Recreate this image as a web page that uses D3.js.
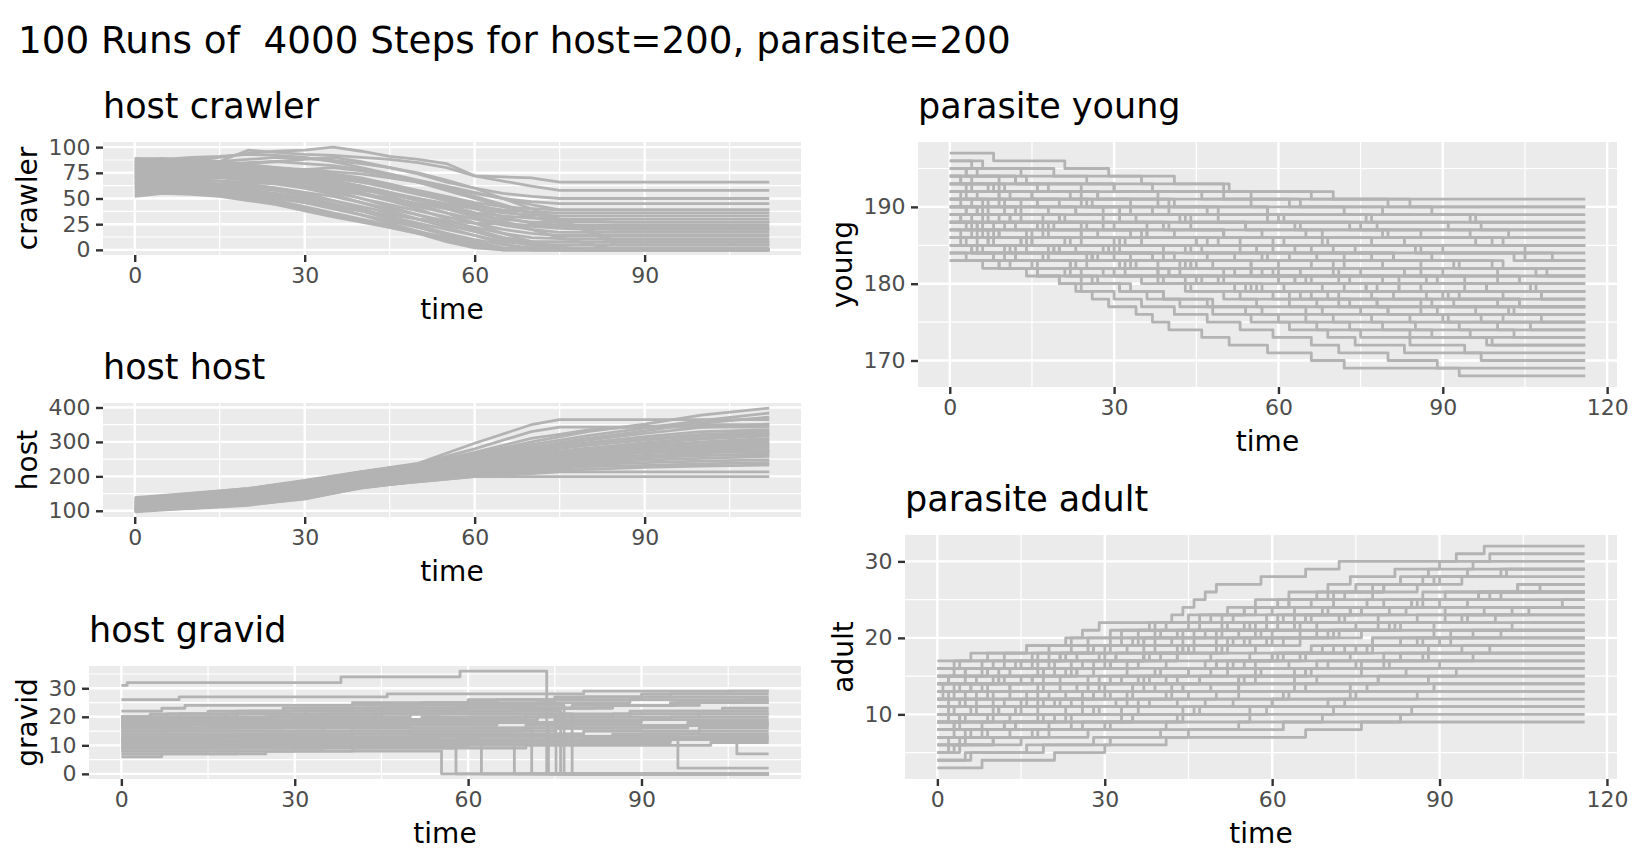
<!DOCTYPE html>
<html>
<head>
<meta charset="utf-8">
<script src="https://cdnjs.cloudflare.com/ajax/libs/d3/7.8.5/d3.min.js"></script>
<style>
  body { margin: 0; background: #ffffff; }
  text { font-family: "DejaVu Sans", sans-serif; }
</style>
</head>
<body>
<svg id="chart" width="1632" height="865"></svg>
<script>
//chart texts
var plotTitle = '100 Runs of  4000 Steps for host=200, parasite=200';

//last time step of each column
var leftEnd = 112,
    rightEnd = 116;

//tick labels
var leftXTicks = [0, 30, 60, 90],
    rightXTicks = [0, 30, 60, 90, 120],
    crawlerTicks = [0, 25, 50, 75, 100],
    hostTicks = [100, 200, 300, 400],
    gravidTicks = [0, 10, 20, 30],
    youngTicks = [170, 180, 190],
    adultTicks = [10, 20, 30];

//host crawler: values read every 5 time units, the last value holds to the end
var crawlerTimes = [0, 5, 10, 15, 20, 25, 30, 35, 40, 45, 50, 55, 60, 65, 70, 75, 80, 85];
var crawlerRuns = [
    [88, 89, 87, 90, 94, 96, 97, 100, 96, 91, 88, 84, 72, 71, 70, 66],
    [85, 87, 88, 86, 97, 95, 93, 92, 90, 88, 85, 80, 72, 67, 62, 58],
    [82, 84, 86, 85, 84, 86, 88, 90, 86, 80, 74, 66, 60, 55, 52, 50],
    [80, 82, 83, 84, 82, 80, 78, 76, 74, 70, 66, 60, 55, 50, 47, 45],
    [78, 80, 79, 81, 80, 78, 76, 72, 68, 64, 58, 52, 46, 42, 40, 39],
    [76, 77, 78, 76, 75, 74, 72, 70, 66, 60, 54, 48, 42, 39, 37, 36],
    [74, 76, 75, 74, 72, 70, 68, 64, 60, 55, 50, 45, 40, 36, 34, 33],
    [72, 73, 72, 74, 73, 70, 66, 62, 58, 54, 48, 42, 36, 33, 31, 30],
    [70, 72, 70, 71, 70, 68, 64, 60, 55, 50, 45, 40, 34, 30, 27],
    [89, 88, 86, 85, 83, 80, 77, 74, 70, 64, 56, 48, 40, 32, 26, 24],
    [86, 85, 84, 82, 80, 76, 72, 68, 62, 56, 48, 40, 32, 26, 23, 21, 20],
    [68, 70, 69, 70, 68, 66, 62, 58, 54, 48, 42, 36, 30, 24, 20, 17],
    [66, 67, 68, 67, 66, 64, 60, 56, 50, 44, 38, 32, 26, 20, 16, 14],
    [64, 66, 65, 64, 63, 60, 56, 52, 46, 40, 34, 28, 22, 16, 12, 11],
    [62, 63, 64, 62, 60, 58, 54, 48, 42, 36, 30, 24, 18, 12, 8],
    [60, 62, 61, 60, 58, 55, 50, 44, 38, 32, 26, 20, 14, 8, 5],
    [58, 60, 59, 58, 56, 52, 46, 40, 34, 28, 22, 16, 10, 5, 2],
    [56, 58, 57, 55, 52, 48, 42, 36, 30, 24, 18, 12, 6, 2, 0],
    [54, 56, 55, 53, 50, 46, 40, 34, 28, 22, 16, 10, 4, 0],
    [52, 55, 54, 52, 48, 44, 38, 32, 27, 22, 16, 8, 2, 0],
    [84, 86, 85, 84, 82, 78, 74, 68, 60, 52, 44, 36, 26, 16, 8, 3, 0],
    [80, 81, 80, 78, 75, 72, 68, 62, 56, 48, 40, 30, 20, 12, 6, 0],
    [77, 78, 76, 75, 72, 68, 64, 58, 50, 42, 34, 26, 18, 10, 4, 0],
    [73, 74, 73, 72, 70, 66, 60, 54, 46, 38, 30, 22, 14, 6, 0],
    [70, 69, 68, 67, 64, 60, 55, 48, 40, 32, 24, 16, 8, 2, 0],
    [67, 68, 66, 64, 62, 58, 52, 45, 38, 30, 22, 14, 6, 0],
    [65, 64, 63, 62, 58, 54, 48, 42, 34, 26, 18, 10, 4, 0],
    [75, 77, 78, 77, 76, 74, 70, 66, 62, 56, 50, 44, 36, 28, 20, 12, 6, 0],
    [82, 83, 81, 80, 78, 76, 73, 70, 66, 62, 56, 50, 44, 38, 32, 26, 22, 20],
    [61, 60, 58, 56, 54, 50, 46, 42, 38, 34, 30, 28, 26, 25, 24, 23, 22, 22],
    [87, 88, 90, 91, 93, 92, 90, 86, 80, 74, 68, 62, 56, 50, 44, 39],
    [79, 80, 82, 83, 85, 86, 84, 82, 78, 72, 66, 58, 50, 42, 36, 30, 28, 27],
    [71, 72, 74, 73, 75, 76, 78, 80, 77, 72, 66, 60, 52, 44, 36, 28, 20, 8],
    [83, 84, 83, 86, 88, 90, 89, 87, 84, 80, 75, 68, 60, 50, 40, 30, 18, 5]
];

//host host: values read at these times
var hostTimes = [0, 10, 20, 30, 40, 50, 60, 70, 75, 80, 90, 100, 112];
var hostRuns = [
    [133, 150, 165, 188, 214, 238, 296, 350, 365, 365, 365, 365, 365],
    [130, 146, 162, 185, 212, 236, 280, 330, 343, 343, 343, 343, 343],
    [125, 140, 158, 182, 208, 232, 265, 300, 315, 330, 352, 378, 398],
    [122, 138, 155, 180, 205, 230, 262, 292, 305, 318, 340, 362, 384],
    [138, 151, 164, 186, 213, 235, 258, 285, 298, 310, 332, 355, 372],
    [118, 134, 152, 176, 202, 226, 255, 282, 294, 305, 325, 342, 352],
    [115, 131, 149, 173, 199, 224, 250, 276, 288, 298, 315, 330, 335],
    [112, 128, 146, 170, 196, 220, 246, 270, 281, 290, 305, 318, 326],
    [110, 126, 144, 168, 194, 218, 242, 264, 274, 282, 296, 308, 318],
    [108, 124, 142, 166, 192, 216, 238, 258, 268, 276, 290, 300, 310],
    [106, 122, 140, 164, 190, 214, 234, 252, 262, 270, 282, 292, 300],
    [104, 120, 138, 161, 187, 211, 230, 247, 256, 264, 275, 284, 292],
    [102, 118, 136, 158, 184, 208, 226, 242, 250, 258, 268, 276, 283],
    [101, 116, 133, 155, 181, 204, 222, 237, 244, 252, 261, 268, 275],
    [100, 114, 130, 152, 178, 200, 218, 232, 240, 246, 254, 260, 266],
    [99, 112, 127, 148, 175, 196, 214, 228, 235, 240, 247, 252, 258],
    [98, 110, 124, 144, 172, 192, 210, 224, 230, 234, 240, 244, 248],
    [97, 108, 120, 140, 168, 188, 206, 218, 224, 228, 232, 236, 240],
    [103, 106, 116, 136, 166, 186, 202, 212, 218, 220, 226, 230, 233],
    [107, 112, 118, 134, 167, 185, 200, 208, 213, 213, 213, 213, 213],
    [111, 116, 122, 138, 170, 184, 199, 199, 199, 199, 199, 199, 199],
    [120, 132, 150, 174, 200, 222, 244, 262, 270, 275, 275, 275, 275],
    [128, 142, 160, 184, 209, 234, 270, 310, 322, 335, 345, 350, 350],
    [126, 139, 156, 178, 203, 228, 252, 275, 285, 292, 308, 322, 330],
    [116, 128, 145, 168, 195, 218, 240, 255, 262, 267, 271, 271, 271],
    [113, 125, 141, 163, 189, 212, 236, 258, 266, 272, 285, 297, 305],
    [109, 121, 137, 159, 185, 206, 228, 246, 255, 262, 271, 280, 288],
    [105, 117, 134, 156, 182, 202, 224, 240, 248, 253, 258, 262, 262],
    [124, 137, 153, 177, 201, 227, 250, 266, 271, 280, 298, 312, 322],
    [136, 148, 163, 187, 212, 233, 248, 262, 266, 268, 278, 290, 295]
];

//host gravid: [time, value] at every change, the last value holds to the end
var gravidRuns = [
    [[0, 31], [1, 32], [38, 34], [58.6, 36], [73.6, 0]],
    [[0, 26], [10, 27], [46, 28], [80, 29]],
    [[0, 22], [7, 23], [11, 24], [40, 25], [60, 26], [75, 27], [90, 28]],
    [[0, 6], [7, 7], [25, 8], [55.4, 0]],
    [[0, 7], [20, 8], [40, 9], [70, 10], [102, 11]],
    [[0, 8], [30, 9], [57.9, 0]],
    [[0, 9], [15, 10], [45, 11], [80, 12]],
    [[0, 10], [25, 11], [50, 12], [62.3, 0]],
    [[0, 11], [20, 12], [45, 13], [96.3, 2]],
    [[0, 12], [18, 13], [40, 14], [68, 0]],
    [[0, 9], [35, 10], [70, 11], [90, 12], [106.5, 7]],
    [[0, 14], [15, 15], [35, 16], [71, 0]],
    [[0, 15], [8, 16], [28, 17], [50, 18], [75, 19], [95, 20]],
    [[0, 16], [20, 17], [40, 18], [73.9, 0]],
    [[0, 17], [12, 18], [30, 19], [52, 20], [70, 21], [90, 22]],
    [[0, 18], [10, 19], [25, 20], [45, 21], [75.2, 0]],
    [[0, 19], [15, 20], [35, 21], [55, 22], [76, 0]],
    [[0, 20], [8, 21], [22, 22], [42, 23], [60, 24], [76.6, 0]],
    [[0, 20], [18, 21], [38, 22], [58, 23], [78, 24], [95, 25]],
    [[0, 19], [25, 20], [50, 21], [78, 0]],
    [[0, 18], [30, 19], [60, 20], [85, 21]],
    [[0, 17], [22, 18], [48, 19], [72, 20], [100, 21]],
    [[0, 16], [35, 17], [65, 18], [90, 19]],
    [[0, 15], [40, 16], [70, 17]],
    [[0, 14], [30, 15], [60, 16], [90, 17]],
    [[0, 13], [45, 14], [80, 15]],
    [[0, 12], [50, 13], [90, 14]],
    [[0, 10], [60, 11], [95, 12]],
    [[0, 20], [5, 21], [15, 22], [28, 23], [40, 24], [52, 25], [65, 26], [80, 27], [95, 28], [105, 29]],
    [[0, 19], [10, 20], [20, 21], [32, 22], [45, 23], [58, 24], [72, 25], [88, 26]],
    [[0, 18], [12, 19], [26, 20], [40, 21], [55, 22], [70, 23], [85, 24], [100, 25]],
    [[0, 17], [6, 18], [18, 19], [30, 20], [44, 21], [56, 22], [68, 23], [82, 24], [96, 25], [108, 26]],
    [[0, 20], [10, 21], [20, 22], [30, 23], [45, 24], [60, 25], [75, 26], [90, 27]],
    [[0, 11], [28, 12], [55, 13], [85, 14], [100, 16]],
    [[0, 9], [20, 10], [38, 11], [58, 12], [80, 13]],
    [[0, 13], [25, 14], [50, 15], [75, 16], [98, 18]],
    [[0, 16], [15, 17], [32, 18], [52, 19], [70, 20], [88, 22], [104, 23]],
    [[0, 8], [15, 9], [35, 10], [60, 11], [80, 12], [100, 13]],
    [[0, 12], [10, 13], [30, 14], [50, 15], [70, 16], [90, 17], [108, 18]]
];

//parasite young: start value and the times it loses one
var youngStarts = [197, 196, 195, 195, 194, 194, 193, 193, 192, 192, 191, 191, 190, 190, 189, 189, 188, 188,
    187, 187, 186, 186, 185, 183, 194, 192, 190, 188, 186, 185, 184, 184, 191, 189, 187, 183,
    196, 195, 194, 193, 192, 191, 190, 189, 188, 187, 186, 185, 190, 193];
var youngDrops = [
    [8, 21, 29, 41, 51, 66],
    [6, 19, 35, 50, 70, 84],
    [5, 14, 30, 46, 62, 88],
    [3, 12, 24, 38, 55, 72, 96],
    [4, 16, 27, 40, 58, 76, 91],
    [2, 10, 22, 33, 47, 60, 78, 102],
    [7, 15, 26, 37, 49, 64, 80, 99],
    [3, 11, 20, 31, 42, 54, 68, 83, 105],
    [5, 13, 23, 34, 44, 57, 69, 86, 110],
    [2, 9, 18, 28, 39, 50, 61, 74, 88, 101],
    [6, 12, 21, 30, 41, 53, 63, 77, 92, 107],
    [4, 10, 17, 25, 36, 45, 56, 67, 79, 90, 104],
    [3, 9, 19, 27, 35, 46, 58, 66, 75, 89, 98],
    [5, 11, 16, 24, 32, 43, 52, 60, 71, 82, 94, 108],
    [2, 8, 15, 22, 31, 39, 48, 59, 65, 76, 87, 100],
    [4, 10, 14, 21, 29, 37, 45, 55, 63, 72, 81, 92, 103],
    [3, 7, 13, 20, 27, 33, 42, 50, 61, 69, 78, 86, 97],
    [5, 9, 15, 19, 26, 34, 40, 49, 57, 64, 73, 80, 91, 106],
    [2, 8, 12, 18, 25, 30, 38, 44, 53, 62, 68, 77, 85, 95],
    [4, 7, 11, 17, 23, 28, 35, 43, 50, 56, 65, 70, 79, 88, 99],
    [3, 6, 12, 16, 22, 27, 33, 39, 47, 54, 60, 67, 75, 84, 94],
    [2, 5, 10, 15, 21, 26, 31, 36, 42, 48, 55, 62, 69, 74, 83, 97],
    [4, 8, 11, 16, 20, 24, 30, 35, 41, 47, 53, 59, 66, 71, 80, 89],
    [6, 14, 20, 23, 26, 29, 34, 37, 40, 46, 51, 58, 66, 72, 93],
    [12, 30, 55, 80],
    [9, 25, 40, 58, 75, 95],
    [7, 20, 36, 50, 68, 85, 103],
    [6, 17, 30, 44, 57, 70, 86, 100],
    [5, 14, 26, 38, 50, 63, 76, 90, 104],
    [4, 12, 22, 32, 43, 55, 66, 78, 89, 101],
    [3, 9, 16, 24, 31, 39, 48, 57, 65, 73, 84, 98],
    [8, 22, 40, 60, 82, 108],
    [10, 28, 44, 63, 79, 96],
    [6, 18, 33, 49, 66, 81, 99],
    [5, 15, 28, 41, 55, 70, 87, 106],
    [9, 24, 39, 56, 71, 88, 102],
    [4, 13, 25, 37, 50, 64, 79, 95],
    [3, 9, 18, 27, 38, 49, 61, 73, 86, 101],
    [2, 8, 15, 24, 33, 43, 54, 65, 77, 90, 105],
    [4, 9, 16, 23, 31, 40, 50, 59, 70, 81, 93, 109],
    [3, 7, 13, 20, 28, 36, 45, 53, 62, 72, 83, 94, 107],
    [2, 6, 11, 17, 24, 31, 39, 47, 55, 64, 73, 82, 93, 104],
    [3, 7, 12, 18, 24, 30, 37, 44, 52, 60, 68, 77, 86, 96, 108],
    [2, 5, 9, 14, 20, 26, 32, 38, 45, 52, 59, 67, 75, 84, 93, 103],
    [4, 8, 13, 19, 25, 31, 38, 46, 54, 62, 71, 80, 90, 100],
    [6, 14, 23, 33, 44, 55, 66, 78, 91, 104],
    [7, 18, 30, 43, 57, 71, 86, 101],
    [10, 26, 42, 60, 79, 98],
    [5, 13, 24, 35, 47, 59, 72, 86, 100],
    [9, 24, 41, 58, 77, 97]
];

//parasite adult: start value and the times it gains one
var adultStarts = [17, 16, 15, 15, 14, 14, 13, 13, 12, 12, 11, 11, 10, 10, 9, 9, 8, 8,
    7, 7, 6, 5, 4, 3, 16, 14, 12, 10, 8, 6, 5, 11, 13, 9, 7, 15,
    16, 15, 14, 13, 12, 11, 10, 9, 8, 7, 6, 5, 4, 12];
var adultRises = [
    [6, 16, 23, 26, 29, 42, 44, 46, 48, 50, 58, 66, 72, 93, 98],
    [4, 12, 20, 27, 33, 38, 45, 52, 57, 63, 70, 74, 82, 90, 99],
    [3, 10, 17, 24, 31, 36, 41, 49, 55, 61, 68, 75, 83, 88, 96],
    [5, 14, 22, 28, 35, 40, 47, 53, 60, 67, 73, 80, 89, 102],
    [2, 9, 18, 25, 30, 37, 43, 51, 59, 64, 71, 78, 86, 94],
    [7, 13, 21, 29, 34, 42, 50, 56, 62, 69, 77, 87, 104],
    [3, 11, 19, 26, 32, 39, 46, 54, 61, 66, 74, 85, 97],
    [6, 15, 24, 31, 37, 45, 53, 58, 65, 73, 84, 95],
    [2, 8, 17, 23, 30, 38, 44, 52, 60, 68, 79, 91],
    [5, 13, 22, 28, 36, 43, 51, 59, 70, 81, 100],
    [4, 10, 18, 27, 34, 41, 49, 57, 65, 76, 89],
    [7, 16, 25, 33, 40, 48, 56, 67, 78, 92],
    [3, 12, 20, 29, 37, 45, 53, 62, 75, 86],
    [6, 15, 26, 35, 43, 52, 63, 74, 88],
    [2, 11, 21, 30, 39, 47, 58, 70, 83],
    [5, 14, 24, 34, 44, 55, 66, 80],
    [4, 13, 23, 32, 42, 54, 68, 84],
    [8, 18, 28, 38, 50, 64, 79],
    [3, 12, 24, 36, 48, 62, 77],
    [9, 20, 33, 46, 60, 75],
    [5, 17, 30, 44, 59, 73],
    [4, 15, 27, 41, 56, 71],
    [6, 19, 31, 45, 62, 83],
    [8, 21, 30, 41, 66, 76],
    [8, 18, 28, 37, 46, 55, 64, 74, 85, 97, 108],
    [10, 21, 31, 40, 50, 60, 71, 82, 94, 106],
    [9, 19, 29, 39, 50, 61, 73, 87, 101],
    [7, 18, 31, 42, 54, 67, 81, 96],
    [3, 9, 15, 22, 28, 35, 41, 49, 57, 66, 78, 92],
    [2, 8, 14, 21, 29, 36, 45, 54, 64, 76, 90],
    [3, 10, 18, 26, 35, 44, 53, 63, 74, 88],
    [2, 7, 13, 19, 25, 31, 37, 43, 50, 57, 64, 72, 81, 90, 101],
    [1, 5, 11, 17, 22, 27, 33, 39, 45, 51, 57, 63, 70, 78, 87, 95],
    [4, 10, 16, 23, 30, 38, 45, 52, 60, 69, 78, 89, 103],
    [5, 12, 19, 26, 34, 41, 49, 57, 66, 76, 87, 99],
    [9, 20, 32, 44, 56, 68, 79, 91, 103, 112],
    [3, 9, 16, 24, 31, 39, 47, 55, 63, 71, 80, 90, 101],
    [5, 12, 20, 28, 36, 44, 52, 61, 70, 80, 91, 104],
    [2, 8, 15, 23, 31, 39, 48, 57, 66, 76, 87, 99],
    [4, 11, 19, 28, 37, 46, 55, 65, 75, 86, 98],
    [3, 9, 17, 25, 34, 43, 52, 62, 72, 83, 95],
    [5, 13, 22, 31, 40, 50, 60, 71, 83, 96],
    [2, 10, 18, 27, 36, 45, 55, 65, 77, 90],
    [4, 11, 19, 28, 37, 47, 57, 68, 80, 94],
    [3, 10, 18, 26, 35, 44, 54, 64, 75, 88],
    [6, 14, 23, 33, 43, 54, 66, 79, 93],
    [4, 13, 24, 35, 47, 60, 74, 89],
    [2, 10, 20, 31, 43, 56, 70, 86],
    [5, 16, 28, 40, 54, 69, 85],
    [1, 6, 12, 18, 24, 30, 37, 44, 51, 59, 67, 76, 86, 97]
];

//style settings (ggplot grey theme at this resolution)
var lineColor = '#b3b3b3',
    lineWidth = 2.8,
    tickLength = 7,
    tickPadding = 5.6;

//builds [time, value] series from values on a time grid
var gridSeries = function (times, runs, end) {
    return runs.map(function (vals) {
        var pts = vals.map(function (v, i) { return [times[i], v]; });
        if (pts[pts.length - 1][0] < end)
            pts.push([end, vals[vals.length - 1]]);
        return pts;
    });
};

//builds [time, value] series from a start value and unit change times
var unitStepSeries = function (starts, changes, sign, end) {
    return starts.map(function (s, i) {
        var pts = [[0, s]];
        changes[i].forEach(function (t, k) { pts.push([t, s + sign * (k + 1)]); });
        pts.push([end, s + sign * changes[i].length]);
        return pts;
    });
};

//closes change point series at the end time
var changeSeries = function (runs, end) {
    return runs.map(function (run) {
        return run.concat([[end, run[run.length - 1][1]]]);
    });
};

var panels = [
    { title: 'host crawler', yLab: 'crawler', box: [103, 142, 801, 255], end: leftEnd, step: false,
      xTicks: leftXTicks, yTicks: crawlerTicks, series: gridSeries(crawlerTimes, crawlerRuns, leftEnd) },
    { title: 'host host', yLab: 'host', box: [103, 403, 801, 517], end: leftEnd, step: false,
      xTicks: leftXTicks, yTicks: hostTicks, series: gridSeries(hostTimes, hostRuns, leftEnd) },
    { title: 'host gravid', yLab: 'gravid', box: [89, 666, 801, 779], end: leftEnd, step: true,
      xTicks: leftXTicks, yTicks: gravidTicks, series: changeSeries(gravidRuns, leftEnd) },
    { title: 'parasite young', yLab: 'young', box: [918, 142, 1617, 387], end: rightEnd, step: true,
      xTicks: rightXTicks, yTicks: youngTicks, series: unitStepSeries(youngStarts, youngDrops, -1, rightEnd) },
    { title: 'parasite adult', yLab: 'adult', box: [905, 535, 1617, 779], end: rightEnd, step: true,
      xTicks: rightXTicks, yTicks: adultTicks, series: unitStepSeries(adultStarts, adultRises, 1, rightEnd) }
];

var svg = d3.select('#chart');

//main title
svg.append('text')
    .attr('x', 18)
    .attr('y', 53)
    .attr('font-size', 37.3)
    .attr('fill', '#000')
    .attr('xml:space', 'preserve')
    .style('white-space', 'pre')
    .text(plotTitle);

//5% expansion like ggplot continuous scales
var expand = function (ext) {
    var d = (ext[1] - ext[0]) * 0.05;
    return [ext[0] - d, ext[1] + d];
};

//minor breaks half way between the major ones
var minorBreaks = function (ticks, domain) {
    var step = ticks[1] - ticks[0],
        out = [];
    for (var v = ticks[0] - step / 2; v <= ticks[ticks.length - 1] + step / 2; v += step)
        if (v >= domain[0] && v <= domain[1]) out.push(v);
    return out;
};

//applies theme styles to an axis group
var styleAxis = function (ax) {
    ax.attr('font-family', '"DejaVu Sans", sans-serif').attr('font-size', 22);
    ax.select('.domain').remove();
    ax.selectAll('.tick line').attr('stroke', '#333333').attr('stroke-width', 2.4);
    ax.selectAll('.tick text').attr('fill', '#4d4d4d');
};

//draws a single panel
var drawPanel = function (p, idx) {
    var b = p.box,
        values = [];
    p.series.forEach(function (s) { s.forEach(function (d) { values.push(d[1]); }); });

    var x = d3.scaleLinear().domain(expand([0, p.end])).range([b[0], b[2]]),
        y = d3.scaleLinear().domain(expand(d3.extent(values))).range([b[3], b[1]]);

    var g = svg.append('g');

    //panel background
    g.append('rect')
        .attr('x', b[0]).attr('y', b[1])
        .attr('width', b[2] - b[0]).attr('height', b[3] - b[1])
        .attr('fill', '#ebebeb');

    //minor grid
    g.selectAll('.minor-x').data(minorBreaks(p.xTicks, x.domain())).enter().append('line')
        .attr('x1', x).attr('x2', x).attr('y1', b[1]).attr('y2', b[3])
        .attr('stroke', '#fff').attr('stroke-width', 1.2);
    g.selectAll('.minor-y').data(minorBreaks(p.yTicks, y.domain())).enter().append('line')
        .attr('y1', y).attr('y2', y).attr('x1', b[0]).attr('x2', b[2])
        .attr('stroke', '#fff').attr('stroke-width', 1.2);

    //major grid
    g.selectAll('.major-x').data(p.xTicks).enter().append('line')
        .attr('x1', x).attr('x2', x).attr('y1', b[1]).attr('y2', b[3])
        .attr('stroke', '#fff').attr('stroke-width', 2.4);
    g.selectAll('.major-y').data(p.yTicks).enter().append('line')
        .attr('y1', y).attr('y2', y).attr('x1', b[0]).attr('x2', b[2])
        .attr('stroke', '#fff').attr('stroke-width', 2.4);

    //clip runs to the panel
    svg.append('clipPath').attr('id', 'clip' + idx).append('rect')
        .attr('x', b[0]).attr('y', b[1])
        .attr('width', b[2] - b[0]).attr('height', b[3] - b[1]);

    var line = d3.line()
        .x(function (d) { return x(d[0]); })
        .y(function (d) { return y(d[1]); })
        .curve(p.step ? d3.curveStepAfter : d3.curveLinear);

    g.append('g').attr('clip-path', 'url(#clip' + idx + ')')
        .selectAll('path').data(p.series).enter().append('path')
        .attr('d', line)
        .attr('fill', 'none')
        .attr('stroke', lineColor)
        .attr('stroke-width', lineWidth)
        .attr('stroke-linejoin', 'round');

    //axes
    var xAxis = g.append('g')
        .attr('transform', 'translate(0,' + b[3] + ')')
        .call(d3.axisBottom(x).tickValues(p.xTicks).tickSize(tickLength).tickPadding(tickPadding));
    styleAxis(xAxis);

    var yAxis = g.append('g')
        .attr('transform', 'translate(' + b[0] + ',0)')
        .call(d3.axisLeft(y).tickValues(p.yTicks).tickSize(tickLength).tickPadding(tickPadding));
    styleAxis(yAxis);

    //widest y tick label
    var maxW = 0;
    yAxis.selectAll('.tick text').each(function () {
        maxW = Math.max(maxW, this.getComputedTextLength());
    });

    //axis titles
    g.append('text')
        .attr('x', (b[0] + b[2]) / 2)
        .attr('y', b[3] + 63.5)
        .attr('text-anchor', 'middle')
        .attr('font-size', 28)
        .text('time');

    var yTitleX = b[0] - tickLength - tickPadding - maxW - 7 - 28 * 0.165;
    g.append('text')
        .attr('transform', 'translate(' + yTitleX + ',' + ((b[1] + b[3]) / 2) + ') rotate(-90)')
        .attr('text-anchor', 'middle')
        .attr('font-size', 28)
        .text(p.yLab);

    //panel title
    g.append('text')
        .attr('x', b[0])
        .attr('y', b[1] - 24)
        .attr('font-size', 35)
        .text(p.title);
};

panels.forEach(drawPanel);
</script>
</body>
</html>
